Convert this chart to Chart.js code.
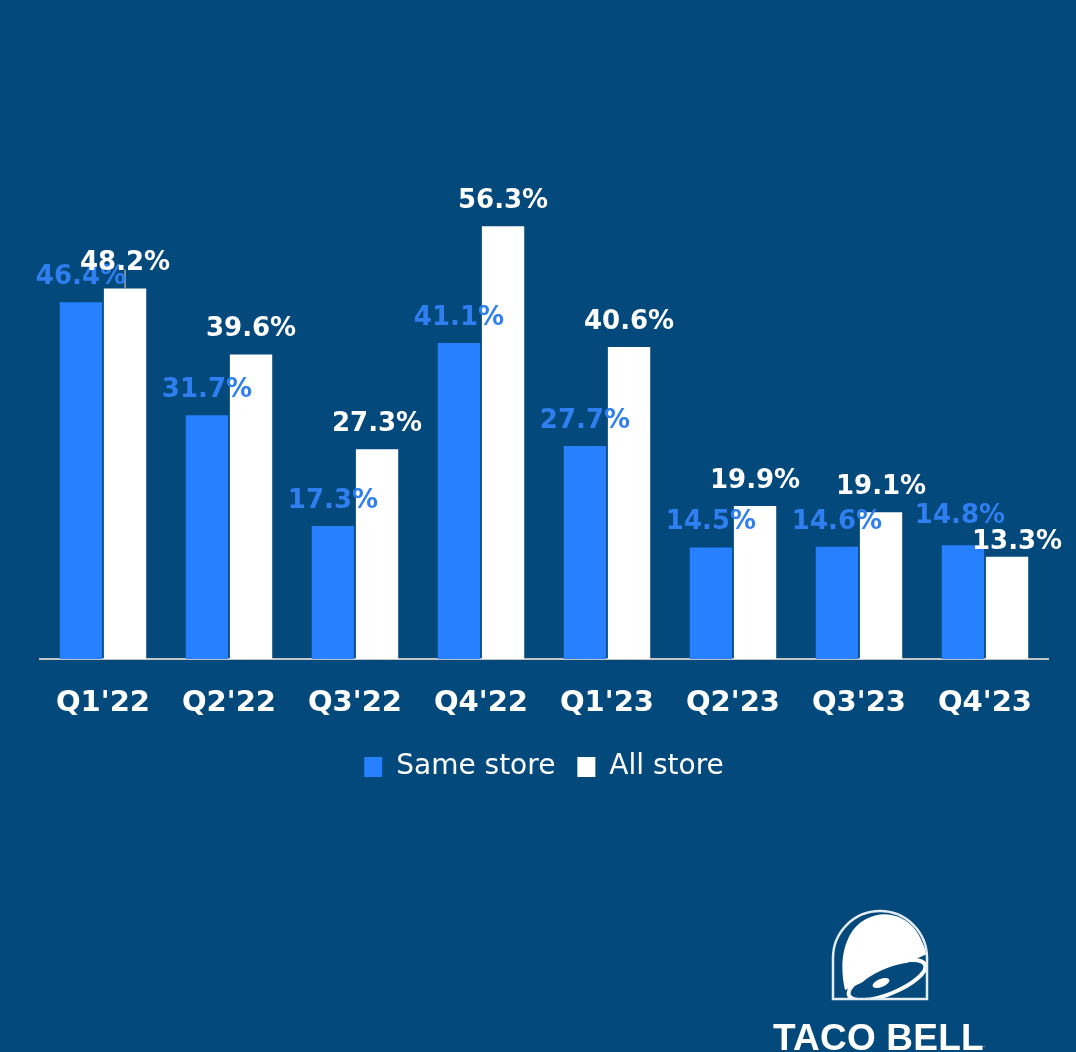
<!DOCTYPE html>
<html>
<head>
<meta charset="utf-8">
<script src="https://cdn.jsdelivr.net/npm/chart.js@4.4.0/dist/chart.umd.min.js"></script>
<style>
html, body { margin: 0; padding: 0; background: #03497c; }
#wrap { position: relative; width: 1076px; height: 1052px; overflow: hidden; }
canvas { display: block; }
#logo { position: absolute; left: 0; top: 0; }
</style>
</head>
<body>
<div id="wrap">
<canvas id="growthChart" width="1076" height="1052"></canvas>
<svg id="logo" width="1076" height="1052">
  <defs>
    <clipPath id="archClip">
      <path d="M834,998 V958 A46,46 0 0 1 926,958 V998 Z"/>
    </clipPath>
  </defs>
  <g clip-path="url(#archClip)">
    <path d="M845,990 C838,960 845,930 866,919 C888,907 914,918 923,944 L927,954 Z" fill="#ffffff"/>
    <ellipse cx="889" cy="978" rx="33" ry="10" transform="rotate(-22 889 978)" fill="#03497c"/>
    <ellipse cx="887" cy="980" rx="41" ry="14" transform="rotate(-22 887 980)" fill="none" stroke="#ffffff" stroke-width="4"/>
    <ellipse cx="881" cy="983" rx="9" ry="4" transform="rotate(-22 881 983)" fill="#ffffff"/>
  </g>
  <path d="M833,999 V958 A47,47 0 0 1 927,958 V999 Z" fill="none" stroke="#e4ecf4" stroke-width="2.5"/>
  <text x="773" y="1050" font-family="Liberation Sans" font-weight="bold" font-size="37" fill="#ffffff" letter-spacing="0.2">TACO BELL</text>
  <text x="983" y="1047" font-family="Liberation Sans" font-size="8" fill="#ffffff">.</text>
</svg>
</div>
<script>
// dados do gráfico
const quarters = ["Q1'22", "Q2'22", "Q3'22", "Q4'22", "Q1'23", "Q2'23", "Q3'23", "Q4'23"];
const sameStore = [46.4, 31.7, 17.3, 41.1, 27.7, 14.5, 14.6, 14.8];
const allStore = [48.2, 39.6, 27.3, 56.3, 40.6, 19.9, 19.1, 13.3];

const blue = "#2780ff";

// pequenos ajustes de posição dos rótulos (dataset-índice)
const labelNudge = {
    "0-7": { dx: -3, dy: -4 },
    "1-7": { dx: 10, dy: 10 }
};

// Plugin para escrever os valores em cima das barras
const valueLabels = {
    id: "valueLabels",
    afterDatasetsDraw(chart) {
        const ctx = chart.ctx;
        // linha guia do primeiro rótulo branco
        const first = chart.getDatasetMeta(1).data[0];
        ctx.save();
        ctx.strokeStyle = "#9aa5b0";
        ctx.lineWidth = 1.5;
        ctx.beginPath();
        ctx.moveTo(first.x, first.y - 19);
        ctx.lineTo(first.x, first.y);
        ctx.stroke();
        ctx.restore();

        chart.data.datasets.forEach((dataset, i) => {
            const meta = chart.getDatasetMeta(i);
            meta.data.forEach((bar, j) => {
                const nudge = labelNudge[i + "-" + j] || { dx: 0, dy: 0 };
                ctx.save();
                ctx.font = 'bold 26px "DejaVu Sans"';
                ctx.fillStyle = dataset.labelColor;
                ctx.textAlign = "center";
                ctx.textBaseline = "middle";
                ctx.fillText(dataset.data[j].toFixed(1) + "%", bar.x + nudge.dx, bar.y - 25 + nudge.dy);
                ctx.restore();
            });
        });
    }
};

const ctx = document.getElementById("growthChart").getContext("2d");

const growthChart = new Chart(ctx, {
    type: "bar",
    data: {
        labels: quarters,
        datasets: [
            {
                label: "Same store",
                data: sameStore,
                backgroundColor: blue,
                labelColor: "#2f7ff0",
                categoryPercentage: 0.7,
                barPercentage: 0.96
            },
            {
                label: "All store",
                data: allStore,
                backgroundColor: "#ffffff",
                labelColor: "#ffffff",
                categoryPercentage: 0.7,
                barPercentage: 0.96
            }
        ]
    },
    options: {
        responsive: false,
        animation: false,
        layout: {
            padding: { top: 44, left: 40, right: 28, bottom: 261 }
        },
        scales: {
            x: {
                grid: { display: false, drawTicks: false },
                border: { color: "#c4c4c4", width: 2 },
                ticks: {
                    color: "#ffffff",
                    padding: 27,
                    font: { family: "DejaVu Sans", size: 29, weight: "bold" }
                },
                afterFit(scale) {
                    scale.height = 72;
                }
            },
            y: {
                display: false,
                min: 0,
                max: 80
            }
        },
        plugins: {
            legend: {
                position: "bottom",
                labels: {
                    color: "#ffffff",
                    boxWidth: 18,
                    boxHeight: 20,
                    padding: 22,
                    font: { family: "DejaVu Sans", size: 28 }
                }
            },
            tooltip: { enabled: false }
        }
    },
    plugins: [valueLabels]
});
</script>
</body>
</html>
